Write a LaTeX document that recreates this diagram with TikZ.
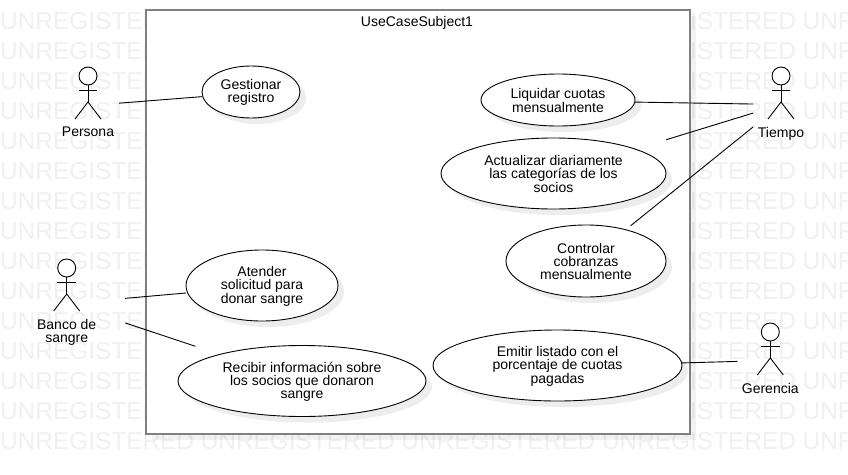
\documentclass[tikz,border=0pt]{standalone}
\usepackage{fontspec}
\setmainfont{Liberation Sans}
\usetikzlibrary{positioning}
\tikzset{
    watermark/.style={anchor=west, inner sep=0pt, text=black!6, font=\fontsize{24.4}{26}\selectfont},
    subjectbox/.style={draw=black!50, fill=white, line width=2pt},
    subjectshadow/.style={fill=black, opacity=0.05},
    ucshape/.style={draw=black, fill=white, line width=0.9pt},
    ucshadow/.style={fill=black!7},
    ucbox/.style={rectangle, inner sep=0pt, outer sep=0pt, align=center, font=\fontsize{14}{13}\selectfont},
    actorline/.style={draw=black, line width=0.9pt},
    actorbox/.style={rectangle, inner sep=0pt, outer sep=0pt, minimum height=76pt},
    actorname/.style={anchor=north, inner sep=0pt, align=center, font=\fontsize{14}{13}\selectfont},
    assoc/.style={draw=black, line width=0.9pt}
}
\begin{document}
\begin{tikzpicture}[x=1pt, y=-1pt]
        \useasboundingbox (0,0) rectangle (848,474);
        \clip (0,0) rectangle (848,474);
        \fill[white] (0,0) rectangle (848,474);

        % -----------------------------------------------------------------
        % MARCA DE AGUA
        % -----------------------------------------------------------------
        \foreach \y in {20,50,...,440} {
            \node[watermark] (wm\y) at (0,\y+1) {UNREGISTERED UNREGISTERED UNREGISTERED UNREGISTERED UNREGISTERED};
        }

        % -----------------------------------------------------------------
        % SUJETO
        % -----------------------------------------------------------------
        \fill[subjectshadow] (152,16) rectangle (695.5,439.5);
        \draw[subjectbox] (146,10) rectangle (689.5,433.5);
        \node[ucbox] (subject) at (417,23) {UseCaseSubject1};

        % -----------------------------------------------------------------
        % CASOS DE USO
        % -----------------------------------------------------------------
        \foreach \n/\x/\y/\rx/\ry/\txt in {
            gestionar/251/92/49/26/Gestionar\\registro,
            liquidar/558/100/77/26/Liquidar cuotas\\mensualmente,
            actualizar/553.5/173.5/112.5/35.5/Actualizar diariamente\\las categorías de los\\socios,
            controlar/586/261/80/36/Controlar\\cobranzas\\mensualmente,
            emitir/557.5/365.5/124.5/35.5/Emitir listado con el\\porcentaje de cuotas\\pagadas,
            atender/262/285.5/76/35.5/Atender\\solicitud para\\donar sangre,
            recibir/302/381/124/35.5/Recibir información sobre\\los socios que donaron\\sangre} {
            \fill[ucshadow] (\x+6,\y+6) ellipse [x radius=\rx, y radius=\ry];
            \draw[ucshape] (\x,\y) ellipse [x radius=\rx, y radius=\ry];
            \node[ucbox, minimum width=2*\rx pt, minimum height=2*\ry pt, yshift=-0.8pt] (\n) at (\x,\y) {\txt};
        }

        % -----------------------------------------------------------------
        % ACTORES
        % -----------------------------------------------------------------
        \foreach \n/\x/\y/\w/\c/\txt in {
            persona/88/76/62/105.6/Persona,
            tiempo/781/76/55.4/104.5/Tiempo,
            banco/66.7/268/117/303.5/Banco de\\sangre,
            gerencia/770.3/332/66/360.5/Gerencia} {
            \draw[actorline, fill=white] (\x,\y) circle [radius=9];
            \draw[actorline] (\x,\y+9) -- (\x,\y+26);
            \draw[actorline] (\x-9.3,\y+14.5) -- (\x+9.3,\y+14.5);
            \draw[actorline] (\x-13,\y+43) -- (\x,\y+26) -- (\x+13,\y+43);
            \node[actorbox, minimum width=\w pt] (\n) at (\x,\c) {};
            \node[actorname] (\n name) at (\x,\y+51) {\txt};
        }

        % -----------------------------------------------------------------
        % ASOCIACIONES
        % -----------------------------------------------------------------
        \draw[assoc] (persona) -- (gestionar);
        \draw[assoc] (tiempo) -- (liquidar);
        \draw[assoc] (tiempo) -- (actualizar);
        \draw[assoc] (tiempo) -- (controlar);
        \draw[assoc] (gerencia) -- (emitir);
        \draw[assoc] (banco) -- (atender);
        \draw[assoc] (banco) -- (recibir);

    \end{tikzpicture}
\end{document}
